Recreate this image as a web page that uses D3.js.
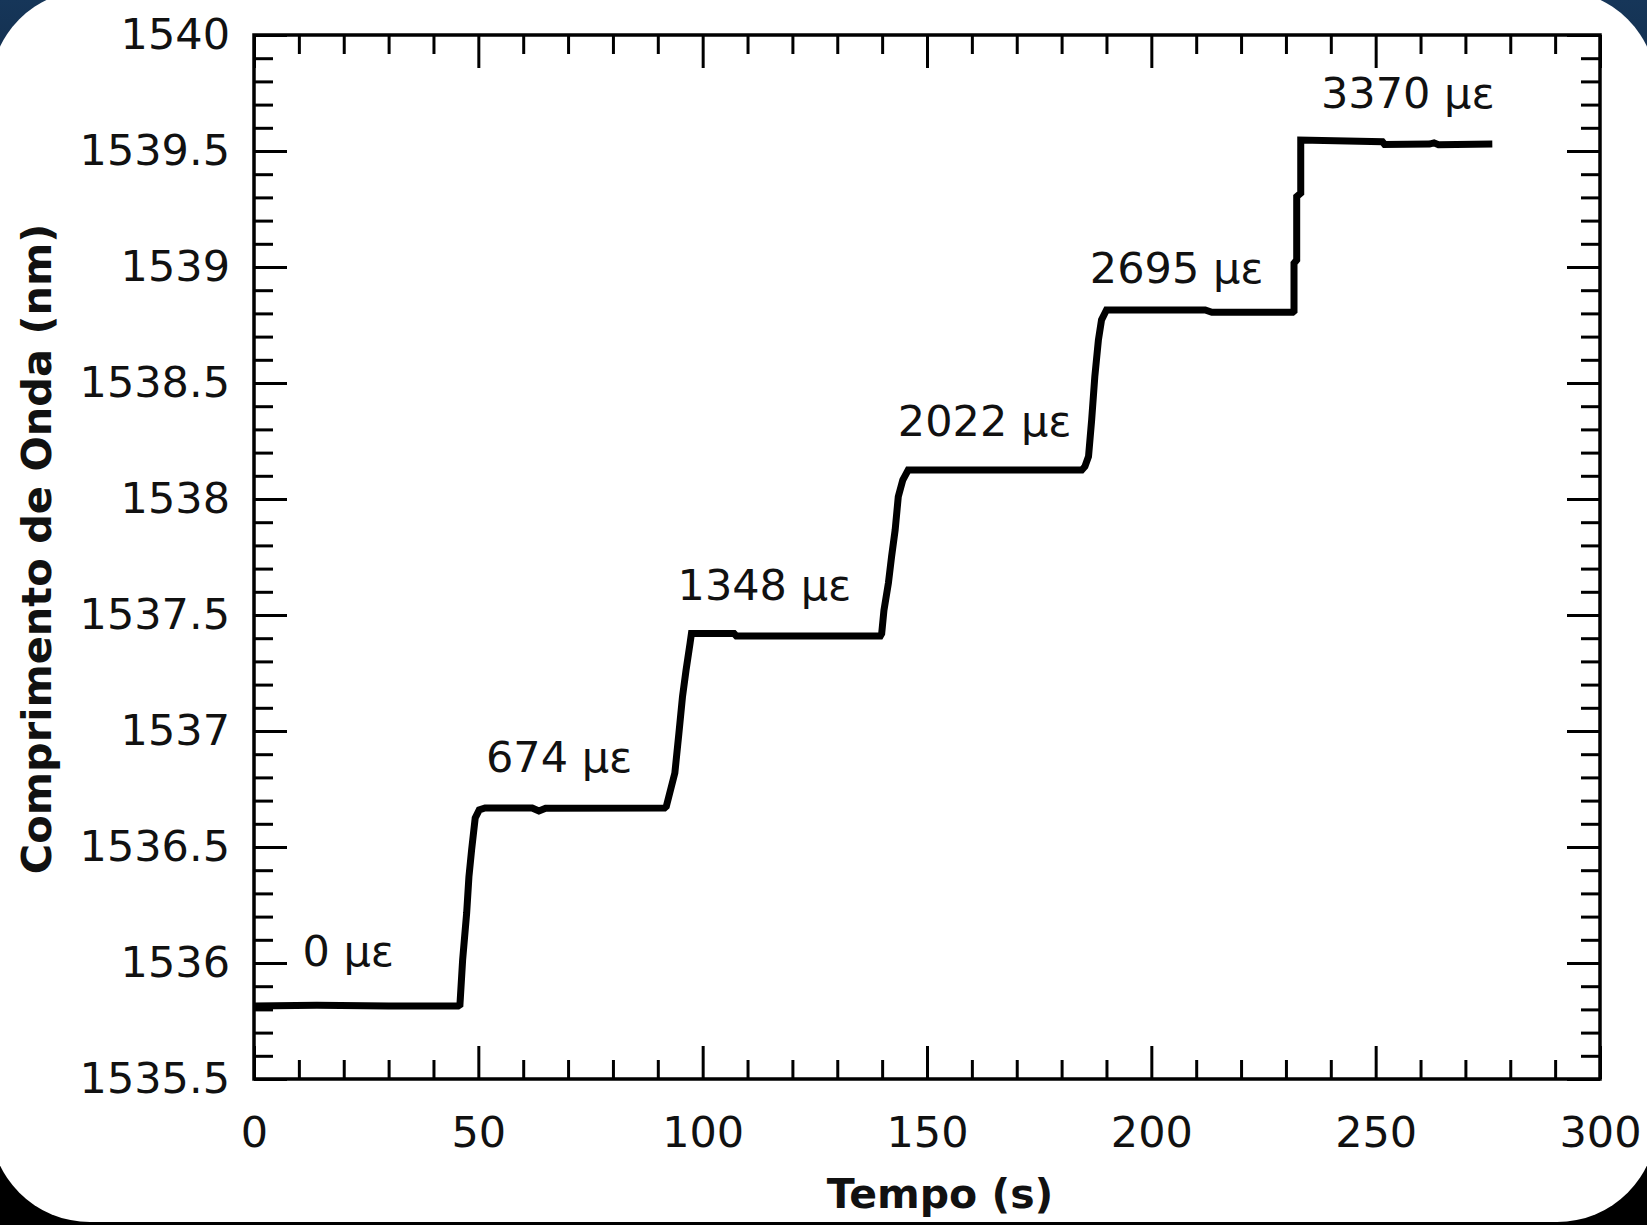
<!DOCTYPE html>
<html>
<head>
<meta charset="utf-8">
<script src="https://d3js.org/d3.v7.min.js"></script>
<style>
        body { margin: 0; background: #000; overflow: hidden; }
        svg { display: block; }
        text { font-family: "DejaVu Sans", Verdana, sans-serif; fill: #111; }
</style>
</head>
<body>
<svg id="chart"></svg>
<script>

// time (s)
const tempo = [
        0, 14, 30, 45.5,
        45.9, 46.5, 47.4, 47.9, 48.5, 49.3, 50.2, 51.5,
        62, 63.5, 65, 91.5,
        91.9, 93.8, 94.7, 95.5, 96.3, 97.2, 97.5,
        107, 107.5, 139.6,
        139.9, 140.4, 141.4, 142.1, 142.9, 143.6, 144.6, 145.8,
        184.5,
        185.2, 186.0, 186.7, 187.4, 188.2, 188.9, 190.0,
        212, 213.5, 231.5,
        231.8, 231.8, 232.4, 232.4, 233.3, 233.3,
        251.5, 252, 262, 263, 264, 276
]

// wavelength (nm)
const comprimento = [
        1535.815, 1535.818, 1535.815, 1535.815,
        1535.82, 1536.013, 1536.216, 1536.371, 1536.487, 1536.625, 1536.66, 1536.668,
        1536.668, 1536.655, 1536.667, 1536.668,
        1536.675, 1536.819, 1536.99, 1537.147, 1537.263, 1537.379, 1537.42,
        1537.42, 1537.41, 1537.41,
        1537.42, 1537.52, 1537.638, 1537.751, 1537.866, 1538.01, 1538.082, 1538.125,
        1538.125,
        1538.14, 1538.183, 1538.341, 1538.527, 1538.685, 1538.772, 1538.815,
        1538.815, 1538.805, 1538.805,
        1538.81, 1539.016, 1539.03, 1539.303, 1539.318, 1539.547,
        1539.54, 1539.528, 1539.53, 1539.535, 1539.527, 1539.53
]

// strain labels and where they sit (data units)
const labelText = ["0 με", "674 με", "1348 με", "2022 με", "2695 με", "3370 με"]
const labelTempo = [10.8, 51.7, 94.4, 143.5, 186.3, 237.8]
const labelComp = [1536.053, 1536.892, 1537.63, 1538.34, 1538.998, 1539.753]

const xTicks = [0, 50, 100, 150, 200, 250, 300]
const yTicks = [1535.5, 1536, 1536.5, 1537, 1537.5, 1538, 1538.5, 1539, 1539.5, 1540]
const xMinor = d3.range(0, 301, 10).filter(d => d % 50 != 0)
const yMinor = d3.range(15355, 15401, 1).filter(d => d % 5 != 0).map(d => d / 10)

const xLabel = "Tempo (s)"
const yLabel = "Comprimento de Onda (nm)"


class StepChart{

        constructor(svg, width, height, margin){
                this.svg = svg
                this.width = width
                this.height = height
                this.margin = margin
        }

        initialize(){

                let W = this.width + this.margin.left + this.margin.right
                let H = this.height + this.margin.top + this.margin.bottom

                this.svg.attr("width", W).attr("height", H)

                // dark desktop behind the white window
                let grad = this.svg.append("defs").append("linearGradient")
                        .attr("id", "bg").attr("x1", 0).attr("y1", 0).attr("x2", 0).attr("y2", 1)
                grad.append("stop").attr("offset", "0").attr("stop-color", "#163659")
                grad.append("stop").attr("offset", "0.25").attr("stop-color", "#0a1a2c")
                grad.append("stop").attr("offset", "0.6").attr("stop-color", "#000")

                this.svg.append("rect").attr("width", W).attr("height", H).attr("fill", "url(#bg)")

                this.svg.append("rect")
                        .attr("x", -10).attr("y", -10)
                        .attr("width", W + 20).attr("height", H + 7)
                        .attr("rx", 100).attr("ry", 100)
                        .attr("fill", "#fff")

                this.container = this.svg.append("g")
                        .attr("transform", `translate(${this.margin.left}, ${this.margin.top})`)

                this.xScale = d3.scaleLinear().domain([0, 300]).range([0, this.width])
                this.yScale = d3.scaleLinear().domain([1535.5, 1540]).range([this.height, 0])
        }

        drawAxes(){

                let major = 33, minor = 19

                // bottom + left with labels, top + right only ticks, all pointing in
                let axes = [
                        [d3.axisBottom, `translate(0, ${this.height})`, this.xScale, xTicks, xMinor, true],
                        [d3.axisTop, `translate(0, 0)`, this.xScale, xTicks, xMinor, false],
                        [d3.axisLeft, `translate(0, 0)`, this.yScale, yTicks, yMinor, true],
                        [d3.axisRight, `translate(${this.width}, 0)`, this.yScale, yTicks, yMinor, false]
                ]

                axes.forEach(([fn, tr, scale, ticks, minors, labels]) => {

                        this.container.append("g")
                                .attr("class", "minor")
                                .attr("transform", tr)
                                .call(fn(scale).tickValues(minors).tickSize(-minor).tickFormat(""))

                        this.container.append("g")
                                .attr("transform", tr)
                                .call(fn(scale).tickValues(ticks).tickSize(-major)
                                        .tickPadding(fn === d3.axisBottom ? 37 : 24)
                                        .tickFormat(labels ? (d => String(d)) : ""))
                })

                this.container.selectAll(".domain").remove()
                this.container.selectAll(".tick line")
                        .attr("stroke", "#000")
                        .attr("stroke-width", 3)
                this.container.selectAll(".tick text")
                        .attr("font-size", 43)
                        .attr("fill", "#111")

                // frame
                this.container.append("rect")
                        .attr("width", this.width).attr("height", this.height)
                        .attr("fill", "none")
                        .attr("stroke", "#000")
                        .attr("stroke-width", 3.5)
        }

        update(){

                this.drawAxes()

                let pts = tempo.map((t, i) => [t, comprimento[i]])

                let line = d3.line()
                        .x(d => this.xScale(d[0]))
                        .y(d => this.yScale(d[1]))

                this.container.append("path")
                        .datum(pts)
                        .attr("d", line)
                        .attr("fill", "none")
                        .attr("stroke", "#000")
                        .attr("stroke-width", 7)
                        .attr("stroke-linejoin", "miter")

                this.container.append("g")
                        .selectAll("text")
                        .data(labelText)
                        .join("text")
                        .attr("x", (d, idx) => this.xScale(labelTempo[idx]))
                        .attr("y", (d, idx) => this.yScale(labelComp[idx]))
                        .attr("dy", "0.36em")
                        .attr("font-size", 43)
                        .text(d => d)

                // axis titles
                this.container.append("text")
                        .attr("x", this.width / 2 + 13)
                        .attr("y", this.height + 129)
                        .attr("text-anchor", "middle")
                        .attr("font-size", 41)
                        .attr("font-weight", "bold")
                        .text(xLabel)

                this.container.append("text")
                        .attr("transform", `translate(${-this.margin.left + 51}, ${this.height / 2 - 8}) rotate(-90)`)
                        .attr("text-anchor", "middle")
                        .attr("font-size", 41.5)
                        .attr("font-weight", "bold")
                        .text(yLabel)
        }
}

let chart = new StepChart(d3.select("#chart"), 1346, 1044, {top: 35, right: 47, bottom: 146, left: 254})
chart.initialize()
chart.update()

</script>
</body>
</html>
